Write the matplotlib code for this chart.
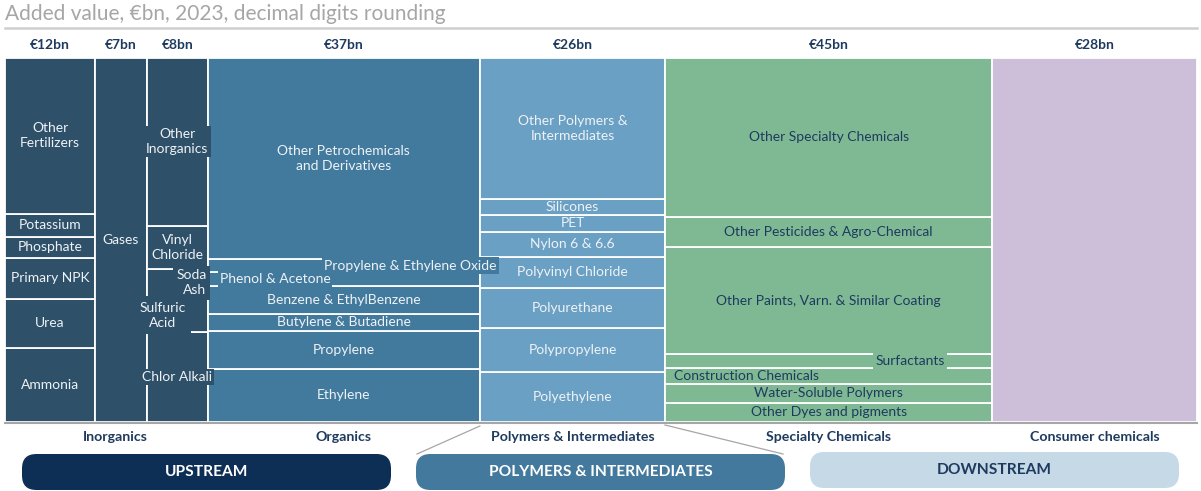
import matplotlib

matplotlib.use("Agg")

import matplotlib.pyplot as plt
from matplotlib.lines import Line2D
from matplotlib.patches import FancyBboxPatch

plt.rcParams["font.family"] = ["Lato", "DejaVu Sans"]

W, H = 1201, 491

# ---- data (bn EUR, segments listed bottom to top) ----
column_headers = ["€12bn", "€7bn", "€8bn", "€37bn", "€26bn", "€45bn", "€28bn"]
# unrounded column sizes
column_values = [12.3, 7.1, 8.3, 37.2, 25.3, 44.7, 28.0]
column_colors = ["#2e5068", "#2e5068", "#2e5068", "#427a9e", "#6aa0c4", "#7eb994", "#cdbfda"]

fert_labels = ["Ammonia", "Urea", "Primary NPK", "Phosphate", "Potassium", "Other\nFertilizers"]
fert_values = [2.44, 1.62, 1.35, 0.69, 0.76, 5.14]

gas_labels = ["Gases"]
gas_values = [7.0]

inorg_labels = ["Chlor Alkali", "Sulfuric\nAcid", "Soda\nAsh", "Vinyl\nChloride", "Other\nInorganics"]
inorg_values = [1.98, 0.73, 0.66, 0.95, 3.69]

org_labels = ["Ethylene", "Propylene", "Butylene & Butadiene", "Benzene & EthylBenzene",
              "Phenol & Acetone", "Propylene & Ethylene Oxide", "Other Petrochemicals\nand Derivatives"]
org_values = [5.4, 3.9, 1.7, 2.8, 1.4, 1.4, 20.4]

poly_labels = ["Polyethylene", "Polypropylene", "Polyurethane", "Polyvinyl Chloride",
               "Nylon 6 & 6.6", "PET", "Silicones", "Other Polymers &\nIntermediates"]
poly_values = [3.6, 3.1, 2.9, 2.2, 1.8, 1.2, 1.1, 10.1]

spec_labels = ["Other Dyes and pigments", "Water-Soluble Polymers", "Construction Chemicals",
               "Surfactants", "Other Paints, Varn. & Similar Coating",
               "Other Pesticides & Agro-Chemical", "Other Specialty Chemicals"]
spec_values = [2.35, 2.35, 2.0, 1.7, 13.2, 3.8, 19.6]

cons_labels = [""]
cons_values = [28.0]

group_labels = ["Inorganics", "Organics", "Polymers & Intermediates", "Specialty Chemicals", "Consumer chemicals"]
group_columns = [[0, 1, 2], [3], [4], [5], [6]]

stage_labels = ["UPSTREAM", "POLYMERS & INTERMEDIATES", "DOWNSTREAM"]

# ---- styling ----
NAVY = "#1f3a5f"
LIGHT_TEXT = "#eef2f6"
text_colors = [LIGHT_TEXT] * 5 + [NAVY, NAVY]
# labels that sit off-centre: (dx in bn, dy as column fraction, box pad or None)
label_tweaks = {
    "Soda\nAsh": (1.9, 0.003, 0.25),
    "Sulfuric\nAcid": (-2.0, 0.0, 0.4),
    "Other\nInorganics": (0.0, 0.0, 0.15),
    "Chlor Alkali": (0.0, 0.0, 0.15),
    "Propylene & Ethylene Oxide": (9.1, 0.0, 0.15),
    "Phenol & Acetone": (-9.4, 0.0, 0.15),
    "Surfactants": (11.1, 0.0, 0.15),
    "Construction Chemicals": (-11.2, 0.0, None),
}
stage_boxes = [  # pixel boxes x0, y0(top), x1, y1(bottom), face, text colour
    (22, 454, 391, 490, "#0d2f55", "white"),
    (416, 454, 785, 490, "#44799e", "white"),
    (810, 452, 1179, 488, "#c5d9e6", NAVY),
]

columns = [
    (fert_labels, fert_values), (gas_labels, gas_values), (inorg_labels, inorg_values),
    (org_labels, org_values), (poly_labels, poly_values), (spec_labels, spec_values),
    (cons_labels, cons_values),
]

fig = plt.figure(figsize=(W / 100, H / 100), dpi=100)
top_px, bot_px, left_px, right_px = 58, 422, 5, 1197
ax = fig.add_axes([left_px / W, 1 - bot_px / H, (right_px - left_px) / W, (bot_px - top_px) / H])
total = sum(column_values)
ax.set_xlim(0, total)
ax.set_ylim(0, 1)
ax.axis("off")


def px(x, y):
    return x / W, 1 - y / H


x0 = 0.0
col_left = []
for ci, (labels, values) in enumerate(columns):
    width = column_values[ci]
    col_left.append(x0)
    colsum = sum(values)
    bottom = 0.0
    color = column_colors[ci]
    for lab, val in zip(labels, values):
        h = val / colsum
        ax.bar(x0, h, width=width, bottom=bottom, align="edge", color=color,
               edgecolor="white", linewidth=1.3)
        if lab:
            dx, dy, pad = label_tweaks.get(lab, (0.0, 0.0, None))
            kw = {}
            if pad is not None:
                kw["bbox"] = dict(boxstyle=f"square,pad={pad}", fc=color, ec="none")
            ma = "right" if lab.startswith("Soda") else "center"
            ax.text(x0 + width / 2 + dx, bottom + h / 2 + dy, lab, ha="center", va="center",
                    multialignment=ma, fontsize=10, color=text_colors[ci],
                    linespacing=1.3, zorder=5, **kw)
        bottom += h
    ax.text(x0 + width / 2, 1 + 13 / (bot_px - top_px), column_headers[ci],
            ha="center", va="center", fontsize=10, fontweight="bold", color=NAVY)
    x0 += width

# group labels under the columns
for gi, (glab, cols) in enumerate(zip(group_labels, group_columns)):
    gl = col_left[cols[0]]
    gr = col_left[cols[-1]] + column_values[cols[-1]]
    cx = (gl + gr) / 2 + (1.2 if gi == 0 else 0.0)
    ax.text(cx, -15 / (bot_px - top_px), glab, ha="center", va="center",
            fontsize=10.2, fontweight="bold", color=NAVY)

# title and rules
fig.text(*px(5, 14), "Added value, €bn, 2023, decimal digits rounding", ha="left", va="center",
         fontsize=15, color="#a6a6a6")
fig.add_artist(Line2D([5 / W, 1197 / W], [1 - 28 / H, 1 - 28 / H], color="#cfcfcf", lw=1.8))
fig.add_artist(Line2D([5 / W, 1197 / W], [1 - 423 / H, 1 - 423 / H], color="#a6a6a6", lw=1.5))

# stage boxes
for (bx0, by0, bx1, by1, fc, tc), slab in zip(stage_boxes, stage_labels):
    fx0, fy1 = px(bx0, by0)
    fx1, fy0 = px(bx1, by1)
    fig.add_artist(FancyBboxPatch((fx0, fy0), fx1 - fx0, fy1 - fy0,
                                  boxstyle="round,pad=0,rounding_size=0.012",
                                  transform=fig.transFigure, fc=fc, ec="none",
                                  mutation_aspect=W / H))
    fig.text((fx0 + fx1) / 2, (fy0 + fy1) / 2, slab, ha="center", va="center",
             fontsize=11.2, fontweight="bold", color=tc)

# funnel lines from the polymers column to its stage box
to_fig = ax.transData + fig.transFigure.inverted()
pl = to_fig.transform((col_left[4], 0))
pr = to_fig.transform((col_left[4] + column_values[4], 0))
fig.add_artist(Line2D([pl[0], 417 / W], [pl[1] - 4 / H, 1 - 454 / H], color="#a6a6a6", lw=0.9))
fig.add_artist(Line2D([pr[0], 783 / W], [pr[1] - 3 / H, 1 - 454 / H], color="#a6a6a6", lw=0.9))

fig.savefig("out.png", dpi=100)
